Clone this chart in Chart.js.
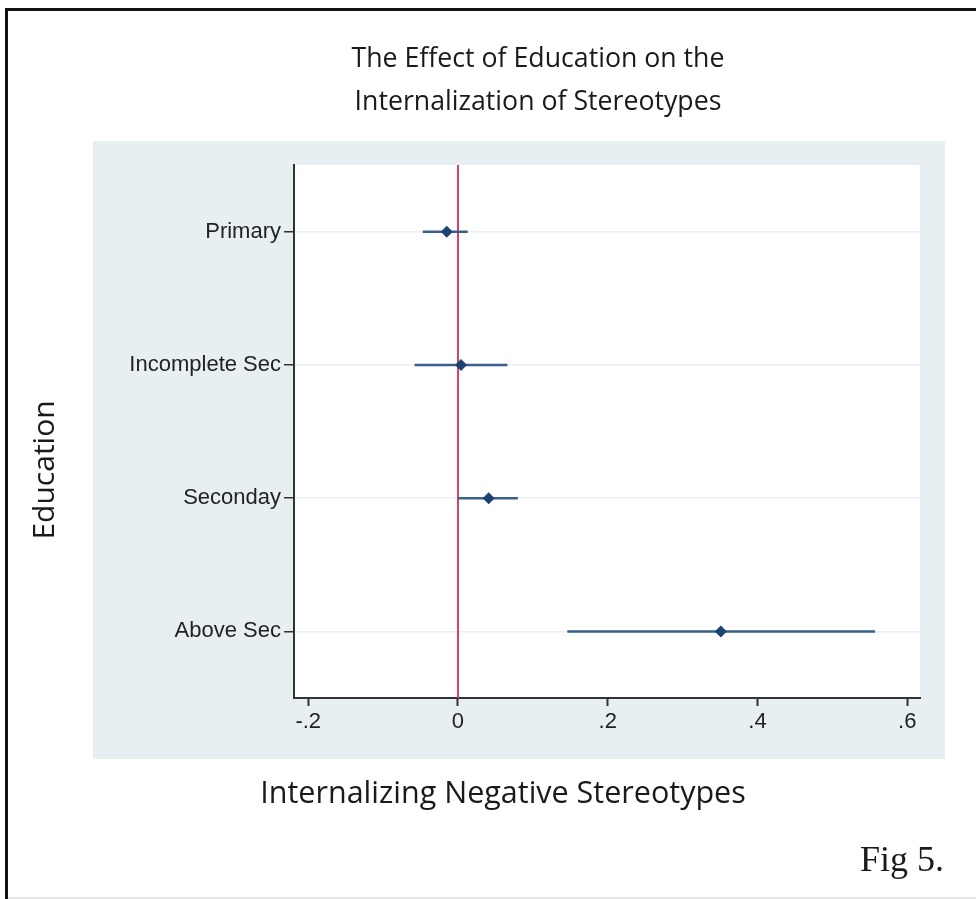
<!DOCTYPE html>
<html>
<head>
<meta charset="utf-8">
<script src="https://cdn.jsdelivr.net/npm/chart.js@4"></script>
<style>
  html, body { margin: 0; padding: 0; background: #fff; }
  #wrap { position: relative; width: 976px; height: 899px; }
</style>
</head>
<body>
<div id="wrap"><canvas id="coefChart"></canvas></div>
<script>
// data
const categories = ['Primary', 'Incomplete Sec', 'Seconday', 'Above Sec'];
const estimates  = [-0.015, 0.004, 0.041, 0.351];
const ciLower    = [-0.047, -0.058, 0.000, 0.146];
const ciUpper    = [0.013, 0.066, 0.080, 0.557];
const xTicks     = [-0.2, 0, 0.2, 0.4, 0.6];

const titleLines = ['The Effect of Education on the', 'Internalization of Stereotypes'];
const xTitle = 'Internalizing Negative Stereotypes';
const yTitle = 'Education';
const figNote = 'Fig 5.';

const NAVY = '#1d4372';
const BAR = '#3a5f8a';

// stata-like labels: .2 instead of 0.2
function stataNum(v) {
    if (v === 0) return '0';
    let s = String(Math.abs(Math.round(v * 1000) / 1000)).replace(/^0/, '');
    return (v < 0 ? '-' : '') + s;
}

// background frame, titles, zero line
const framePlugin = {
    id: 'frame',
    beforeDraw(chart) {
        const ctx = chart.ctx, a = chart.chartArea;
        ctx.save();
        ctx.fillStyle = '#fff';
        ctx.fillRect(0, 0, chart.width, chart.height);
        // outer border (top + left)
        ctx.fillStyle = '#111';
        ctx.fillRect(5, 8, chart.width - 5, 3);
        ctx.fillRect(5, 8, 3, chart.height - 8);
        ctx.fillStyle = '#e6e6e6';
        ctx.fillRect(8, chart.height - 2, chart.width - 8, 2);
        // graph region
        ctx.fillStyle = '#e8eff2';
        ctx.fillRect(93, 141, 852, 618);
        ctx.fillStyle = '#fff';
        ctx.fillRect(a.left, a.top, a.right - a.left, a.bottom - a.top);

        ctx.fillStyle = '#1a1a1a';
        ctx.textAlign = 'center';
        ctx.textBaseline = 'alphabetic';
        ctx.font = '26.7px "Open Sans"';
        ctx.fillText(titleLines[0], 538, 67);
        ctx.fillText(titleLines[1], 538, 110);
        ctx.font = '30.5px "Open Sans"';
        ctx.fillText(xTitle, 503, 803);

        ctx.save();
        ctx.translate(54, 470);
        ctx.rotate(-Math.PI / 2);
        ctx.font = '30px "Open Sans"';
        ctx.fillText(yTitle, 0, 0);
        ctx.restore();

        ctx.textAlign = 'right';
        ctx.font = '36px "Liberation Serif"';
        ctx.fillText(figNote, 944, 871);
        ctx.restore();
    },
    beforeDatasetsDraw(chart) {
        const ctx = chart.ctx, a = chart.chartArea;
        const x0 = chart.scales.x.getPixelForValue(0);
        ctx.save();
        ctx.strokeStyle = '#d6416c';
        ctx.lineWidth = 2;
        ctx.beginPath();
        ctx.moveTo(x0, a.top);
        ctx.lineTo(x0, a.bottom);
        ctx.stroke();
        ctx.restore();
    }
};

const ciSets = categories.map((c, i) => ({
    type: 'line',
    data: [{ x: ciLower[i], y: c }, { x: ciUpper[i], y: c }],
    borderColor: BAR,
    borderWidth: 2.5,
    pointRadius: 0,
    order: 2
}));

new Chart(document.getElementById('coefChart'), {
    type: 'scatter',
    data: {
        labels: categories,
        datasets: [{
            data: categories.map((c, i) => ({ x: estimates[i], y: c })),
            pointStyle: 'rectRot',
            pointRadius: 6,
            backgroundColor: NAVY,
            borderColor: NAVY,
            borderWidth: 0,
            order: 1
        }, ...ciSets]
    },
    options: {
        responsive: true,
        maintainAspectRatio: false,
        devicePixelRatio: 1,
        animation: false,
        layout: { padding: { top: 165, right: 56, left: 0, bottom: 0 } },
        plugins: { legend: { display: false }, tooltip: { enabled: false } },
        scales: {
            x: {
                type: 'linear',
                min: -0.219,
                max: 0.617,
                afterBuildTicks: s => { s.ticks = xTicks.map(v => ({ value: v })); },
                afterFit: s => { s.height = 201; },
                border: { display: true, color: '#333', width: 2 },
                grid: { drawOnChartArea: false, tickLength: 8, tickColor: '#333', tickWidth: 2 },
                ticks: {
                    padding: 3,
                    color: '#222',
                    font: { family: '"Liberation Sans", Arial', size: 22 },
                    callback: v => stataNum(v)
                }
            },
            y: {
                type: 'category',
                labels: categories,
                offset: true,
                afterFit: s => { s.width = 294; },
                border: { display: true, color: '#333', width: 2 },
                grid: { color: '#eceff1', lineWidth: 1.5, tickLength: 10, tickColor: '#333', tickWidth: 1.5, offset: false },
                ticks: {
                    padding: 3,
                    color: '#222',
                    font: { family: '"Liberation Sans", Arial', size: 22 }
                }
            }
        }
    },
    plugins: [framePlugin]
});
</script>
</body>
</html>
